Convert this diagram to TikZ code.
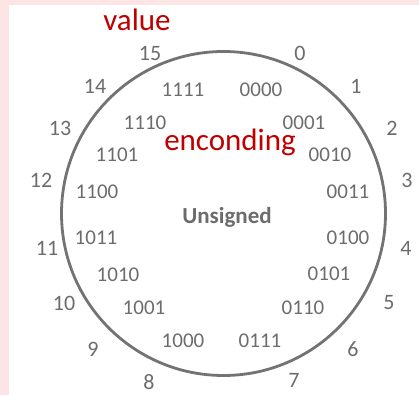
\documentclass[tikz,border=0pt]{standalone}
\usepackage{fontspec}
\setmainfont{Carlito}
\definecolor{pinkbg}{RGB}{254,229,229}
\definecolor{txtgray}{RGB}{108,108,108}
\definecolor{ringgray}{RGB}{115,115,115}
\definecolor{darkred}{RGB}{192,0,0}
\tikzset{
  valnum/.style={text=txtgray, font=\fontsize{22}{24}\selectfont, inner sep=0pt},
  encnum/.style={text=txtgray, font=\fontsize{21}{24}\selectfont, inner sep=0pt},
  redlabel/.style={text=darkred, font=\fontsize{31}{34}\selectfont, inner sep=0pt},
  titlelabel/.style={text=txtgray, font=\bfseries\fontsize{23}{25}\selectfont, inner sep=0pt},
  ring/.style={draw=ringgray, line width=2.8pt}
}
\begin{document}
\begin{tikzpicture}[x=1pt,y=-1pt]
\useasboundingbox (0,0) rectangle (419,395);
\fill[pinkbg] (0,0) rectangle (419,5);
\fill[pinkbg] (0,0) rectangle (9,395);
\node[ring, circle, minimum size=324pt, inner sep=0pt] (ring) at (223.5,213.5) {};
% values
\node[valnum] (v0) at (300,53) {0};
\node[valnum] (v1) at (356,86) {1};
\node[valnum] (v2) at (392,128) {2};
\node[valnum] (v3) at (407,180) {3};
\node[valnum] (v4) at (406,248) {4};
\node[valnum] (v5) at (389,303) {5};
\node[valnum] (v6) at (353,349) {6};
\node[valnum] (v7) at (294,380) {7};
\node[valnum] (v8) at (149,382) {8};
\node[valnum] (v9) at (93,349) {9};
\node[valnum] (v10) at (64,303) {10};
\node[valnum] (v11) at (47,248) {11};
\node[valnum] (v12) at (41,180) {12};
\node[valnum] (v13) at (60,128) {13};
\node[valnum] (v14) at (95,86) {14};
\node[valnum] (v15) at (150,53) {15};
% encodings
\node[encnum] (e0) at (261,90) {0000};
\node[encnum] (e1) at (304,123) {0001};
\node[encnum] (e2) at (330,155) {0010};
\node[encnum] (e3) at (348,192) {0011};
\node[encnum] (e4) at (348,238) {0100};
\node[encnum] (e5) at (329,274) {0101};
\node[encnum] (e6) at (303,308) {0110};
\node[encnum] (e7) at (260,341) {0111};
\node[encnum] (e8) at (183,341) {1000};
\node[encnum] (e9) at (144,308) {1001};
\node[encnum] (e10) at (118,275) {1010};
\node[encnum] (e11) at (96,238) {1011};
\node[encnum] (e12) at (97,192) {1100};
\node[encnum] (e13) at (117,155) {1101};
\node[encnum] (e14) at (145,123) {1110};
\node[encnum] (e15) at (183,90) {1111};
% labels
\node[redlabel] (value) at (137,20) {value};
\node[redlabel] (enc) at (230,142) {enconding};
\node[titlelabel] (uns) at (227,217) {Unsigned};
\end{tikzpicture}
\end{document}
